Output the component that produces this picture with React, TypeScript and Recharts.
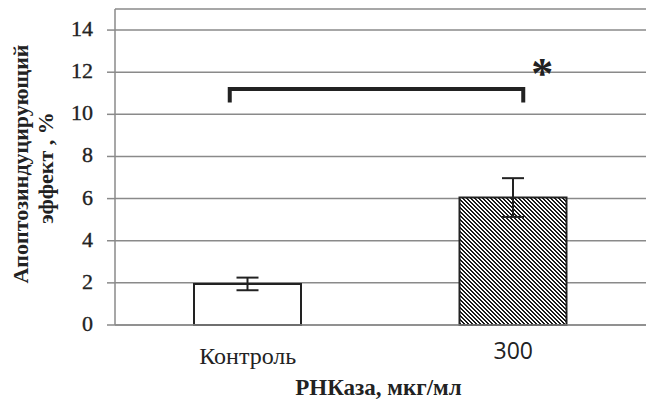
import { BarChart, Bar, XAxis, YAxis, CartesianGrid, Cell, ErrorBar, ReferenceLine } from 'recharts';

const categories = ['Контроль', '300'];
const values = [1.95, 6.05];
const errors = [0.3, 0.92];
const yTicks = [0, 2, 4, 6, 8, 10, 12, 14];
const bracketY = 11.2;

const INK = '#222222';
const GRID = '#8a8a8a';
const SERIF = 'Liberation Serif';
const SANS = 'Open Sans';

const fills = ['#ffffff', 'url(#hatch)'];
// first label is serif, second one is sans in the original
const tickFonts = [
  { family: SERIF, size: 24, dy: 39 },
  { family: SANS, size: 23, dy: 34 },
];

const data = categories.map((name, i) => ({ name, value: values[i], err: errors[i] }));

// pixel stair "\" hatch, 4px period
const hatchCells = [0, 1, 2, 3].flatMap((r) => [
  [r, r],
  [(r + 1) % 4, r],
]);

function XTick(props: any) {
  const { x, y, payload, index } = props;
  const f = tickFonts[index] || tickFonts[0];
  return (
    <text x={x} y={y + f.dy} textAnchor="middle" style={{ fontFamily: f.family, fontSize: f.size }} fill={INK}>
      {payload.value}
    </text>
  );
}

function YTick(props: any) {
  const { x, y, payload } = props;
  return (
    <text x={x} y={y + 6} textAnchor="end" style={{ fontFamily: SERIF, fontSize: 22 }} fill={INK} stroke={INK} strokeWidth={0.35}>
      {payload.value}
    </text>
  );
}

function Bracket(props: any) {
  const { x1, y1, x2 } = props;
  const left = x1 - 18;
  const right = x2 + 10;
  const drop = 13.5;
  return (
    <g>
      <path
        d={`M${left},${y1 + drop} V${y1} H${right} V${y1 + drop}`}
        fill="none"
        stroke={INK}
        strokeWidth={4}
      />
      <text x={right + 19} y={y1 - 1} textAnchor="middle" style={{ fontFamily: SERIF, fontWeight: 'bold', fontSize: 44 }} fill={INK}>
        *
      </text>
    </g>
  );
}

export default function App() {
  return (
    <div style={{ position: 'absolute', left: 0, top: 0, width: 647, height: 401, background: '#fff' }}>
      <svg width={0} height={0} style={{ position: 'absolute' }}>
        <defs>
          <pattern id="hatch" patternUnits="userSpaceOnUse" width={4} height={4}>
            <rect width={4} height={4} fill="#ffffff" />
            {hatchCells.map(([cx, cy], i) => (
              <rect key={i} x={cx} y={cy} width={1} height={1} fill="#1a1a1a" shapeRendering="crispEdges" />
            ))}
          </pattern>
        </defs>
      </svg>
      <BarChart width={647} height={401} data={data} margin={{ top: 9, right: 1, left: 0, bottom: 0 }}>
        <CartesianGrid vertical={false} stroke={GRID} strokeWidth={1.5} />
        <XAxis
          dataKey="name"
          height={76}
          axisLine={{ stroke: GRID, strokeWidth: 1.5 }}
          tickLine={false}
          tickSize={0}
          tickMargin={0}
          tick={<XTick />}
          label={{
            content: (p: any) => {
              const vb = p.viewBox || { x: 115, width: 531 };
              return (
                <text x={vb.x + vb.width / 2 - 2} y={395} textAnchor="middle" style={{ fontFamily: SERIF, fontWeight: 'bold', fontSize: 23 }} fill={INK}>
                  РНКаза, мкг/мл
                </text>
              );
            },
          }}
        />
        <YAxis
          width={115}
          domain={[0, 15]}
          ticks={yTicks}
          interval={0}
          axisLine={{ stroke: GRID, strokeWidth: 1.5 }}
          tickLine={{ stroke: GRID, strokeWidth: 1.5 }}
          tickSize={8}
          tickMargin={14}
          tick={<YTick />}
          label={{
            content: () => (
              <g style={{ fontFamily: SERIF, fontWeight: 'bold', fontSize: 22 }} fill={INK}>
                <text x={28} y={164} transform="rotate(-90 28 164)" textAnchor="middle">
                  Апоптозиндуцирующий
                </text>
                <text x={53} y={168} transform="rotate(-90 53 168)" textAnchor="middle">
                  эффект , %
                </text>
              </g>
            ),
          }}
        />
        <Bar dataKey="value" barSize={107} stroke={INK} strokeWidth={2} isAnimationActive={false}>
          {data.map((d, i) => (
            <Cell key={d.name} fill={fills[i]} />
          ))}
          <ErrorBar dataKey="err" width={11} stroke={INK} strokeWidth={2} direction="y" isAnimationActive={false} />
        </Bar>
        <ReferenceLine
          segment={[
            { x: categories[0], y: bracketY },
            { x: categories[1], y: bracketY },
          ]}
          ifOverflow="visible"
          shape={(p: any) => <Bracket {...p} />}
        />
      </BarChart>
    </div>
  );
}
